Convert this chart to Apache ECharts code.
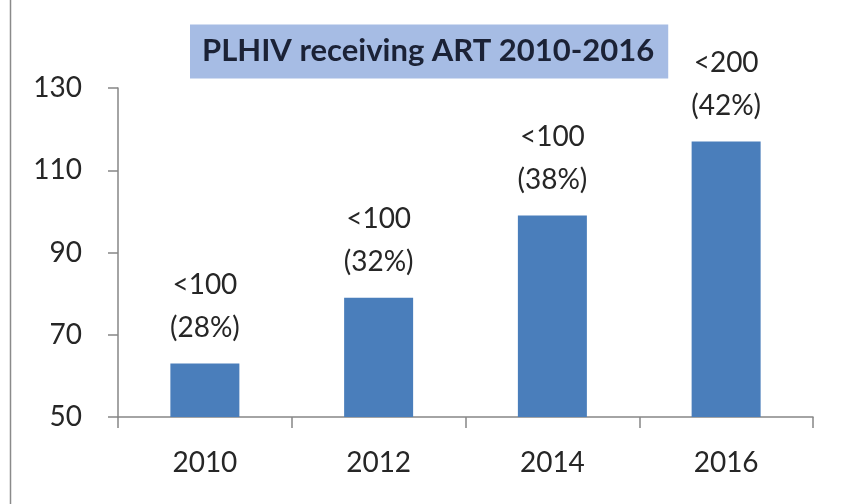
<!DOCTYPE html>
<html>
<head>
<meta charset="utf-8">
<script src="https://cdn.jsdelivr.net/npm/echarts@6/dist/echarts.min.js"></script>
<style>
html,body{margin:0;padding:0;background:#fff;}
#chart{width:841px;height:504px;}
</style>
</head>
<body>
<div id="chart"></div>
<script>
const titleText = 'PLHIV receiving ART 2010-2016';
const categories = ['2010', '2012', '2014', '2016'];
const values = [63, 79, 99, 117];
const labelTop = ['<100', '<100', '<100', '<200'];
const labelPct = ['(28%)', '(32%)', '(38%)', '(42%)'];
const yTicks = [50, 70, 90, 110, 130];

const chart = echarts.init(document.getElementById('chart'), null, {renderer: 'canvas'});
const font = 'Lato, "Open Sans", sans-serif';
chart.setOption({
  backgroundColor: '#ffffff',
  animation: false,
  title: {
    text: titleText,
    left: 190, top: 25,
    backgroundColor: '#a6bce4',
    padding: [11, 14, 12, 12],
    textStyle: {fontFamily: font, fontWeight: 'bold', fontSize: 31, lineHeight: 30, color: '#1b2236'}
  },
  graphic: [{
    type: 'line', shape: {x1: 10.5, y1: 0, x2: 10.5, y2: 504},
    style: {stroke: '#8a8a8a', lineWidth: 1.5}
  }],
  grid: {left: 118, right: 28, top: 88, bottom: 87, containLabel: false},
  xAxis: {
    type: 'category', data: categories,
    axisLine: {lineStyle: {color: '#868686', width: 1.5}},
    axisTick: {show: true, length: 11, alignWithLabel: false, lineStyle: {color: '#868686', width: 1.5}},
    axisLabel: {margin: 32, fontFamily: font, fontSize: 28, lineHeight: 28, color: '#262626'}
  },
  yAxis: {
    type: 'value', min: yTicks[0], max: yTicks[yTicks.length - 1], interval: 20,
    axisLine: {show: true, lineStyle: {color: '#868686', width: 1.5}},
    axisTick: {show: true, length: 10, lineStyle: {color: '#868686', width: 1.5}},
    splitLine: {show: false},
    axisLabel: {margin: 36, fontFamily: font, fontSize: 28, color: '#262626'}
  },
  series: [{
    type: 'bar', data: values, barWidth: 69,
    itemStyle: {color: '#4a7ebb'},
    label: {
      show: true, position: 'top', distance: 14,
      fontFamily: font, fontSize: 28, lineHeight: 43, color: '#262626',
      formatter: p => labelTop[p.dataIndex] + '\n' + labelPct[p.dataIndex]
    }
  }]
});
</script>
</body>
</html>
